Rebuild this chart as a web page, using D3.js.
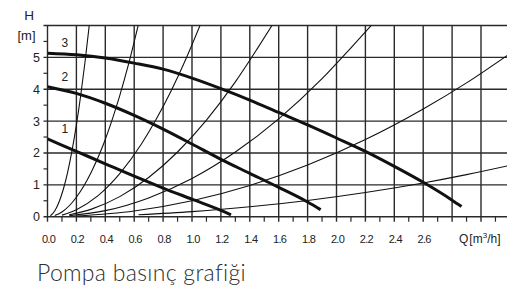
<!DOCTYPE html>
<html>
<head>
<meta charset="utf-8">
<script src="https://cdn.jsdelivr.net/npm/d3@7"></script>
<style>
  html, body { margin: 0; padding: 0; background: #fff; }
  svg text { font-family: "Liberation Sans", Arial, sans-serif; fill: #222; }
</style>
</head>
<body>
<svg id="chart" width="507" height="289"></svg>
<script>
// tick labels
var qTicks = [0.0, 0.2, 0.4, 0.6, 0.8, 1.0, 1.2, 1.4, 1.6, 1.8, 2.0, 2.2, 2.4, 2.6];
var hTicks = [0, 1, 2, 3, 4, 5];

// pump curves 1, 2, 3  [Q m3/h, H m]
var pump1 = [[0, 2.44], [0.2, 2.05], [0.4, 1.66], [0.6, 1.27], [0.8, 0.9], [1.0, 0.55], [1.2, 0.2], [1.27, 0.06]];
var pump2 = [[0, 4.08], [0.2, 3.87], [0.4, 3.56], [0.6, 3.18], [0.8, 2.75], [1.0, 2.28], [1.2, 1.8], [1.4, 1.36], [1.6, 0.92], [1.8, 0.46], [1.89, 0.22]];
var pump3 = [[0, 5.13], [0.2, 5.08], [0.4, 4.98], [0.6, 4.82], [0.8, 4.63], [1.0, 4.35], [1.2, 4.02], [1.4, 3.66], [1.6, 3.27], [1.8, 2.88], [2.0, 2.47], [2.2, 2.05], [2.4, 1.58], [2.6, 1.08], [2.8, 0.52], [2.865, 0.32]];
var pumpNames = ["1", "2", "3"];

// system (pipe) curves, thin lines
var sysA = [[0.02, 0.03], [0.05, 0.18], [0.08, 0.46], [0.11, 0.87], [0.14, 1.41], [0.17, 2.08], [0.2, 2.88], [0.23, 3.81], [0.26, 4.87], [0.29, 6.05]];
var sysB = [[0.05, 0.04], [0.1, 0.15], [0.2, 0.61], [0.3, 1.37], [0.386, 2.26], [0.45, 3.08], [0.5, 3.8], [0.56, 4.77], [0.63, 6.05]];
var sysC = [[0.1, 0.05], [0.2, 0.22], [0.35, 0.66], [0.5, 1.35], [0.65, 2.28], [0.75, 3.04], [0.85, 3.9], [0.95, 4.87], [1.06, 6.05]];
var sysD = [[0.15, 0.06], [0.3, 0.23], [0.5, 0.63], [0.7, 1.23], [0.9, 2.03], [1.1, 3.03], [1.3, 4.23], [1.45, 5.26], [1.56, 6.05]];
var sysE = [[0.15, 0.03], [0.4, 0.19], [0.7, 0.59], [1.0, 1.2], [1.3, 2.03], [1.6, 3.07], [1.9, 4.33], [2.1, 5.3], [2.25, 6.05]];
var sysF = [[0.2, 0.02], [0.6, 0.18], [1.0, 0.5], [1.4, 0.98], [1.8, 1.62], [2.2, 2.42], [2.6, 3.38], [2.9, 4.2], [3.2, 5.12]];
var sysG = [[0.63, 0.06], [1.0, 0.16], [1.4, 0.31], [1.8, 0.51], [2.2, 0.76], [2.6, 1.06], [2.9, 1.32], [3.2, 1.61]];

var svg = d3.select("#chart");

var x = d3.scaleLinear().domain([0, 3.2]).range([47.5, 47.5 + 3.2 * 144.5]);
var y = d3.scaleLinear().domain([0, 6]).range([216.7, 25.5]);

// clip for the plot area
svg.append("defs").append("clipPath").attr("id", "plot")
    .append("rect")
    .attr("x", x(0)).attr("y", y(6))
    .attr("width", 507 - x(0)).attr("height", y(0) - y(6));

var grid = svg.append("g").attr("stroke", "#2a2a2a").attr("stroke-width", 1.4);

// vertical grid lines every 0.2, running a bit below the axis
var vGrid = d3.range(0, 3.01, 0.2);
grid.selectAll(".vg").data(vGrid).enter().append("line")
    .attr("x1", d => x(d)).attr("x2", d => x(d))
    .attr("y1", y(6)).attr("y2", y(0) + 5);

// minor ticks on Q axis
var qMinor = d3.range(0.1, 3.2, 0.2);
grid.selectAll(".vm").data(qMinor).enter().append("line")
    .attr("x1", d => x(d)).attr("x2", d => x(d))
    .attr("y1", y(0)).attr("y2", y(0) + 5)
    .attr("stroke-width", 1.2);

// horizontal grid lines
grid.selectAll(".hg").data(d3.range(0, 7, 1)).enter().append("line")
    .attr("x1", x(0) - 4).attr("x2", 507)
    .attr("y1", d => y(d)).attr("y2", d => y(d));

// minor ticks on H axis
grid.selectAll(".hm").data(d3.range(0.5, 6, 1)).enter().append("line")
    .attr("x1", x(0) - 4).attr("x2", x(0))
    .attr("y1", d => y(d)).attr("y2", d => y(d))
    .attr("stroke-width", 1.2);

var line = d3.line()
    .x(d => x(d[0]))
    .y(d => y(d[1]))
    .curve(d3.curveMonotoneX);

var curves = svg.append("g").attr("clip-path", "url(#plot)").attr("fill", "none");

// thin system curves
curves.selectAll(".sys").data([sysA, sysB, sysC, sysD, sysE, sysF, sysG]).enter().append("path")
    .attr("d", line)
    .attr("stroke", "#111")
    .attr("stroke-width", 1.1);

// thick pump curves
var pumps = [pump1, pump2, pump3];
curves.selectAll(".pump").data(pumps).enter().append("path")
    .attr("d", line)
    .attr("stroke", "#111")
    .attr("stroke-width", 3)
    .attr("stroke-linecap", "butt");

// curve numbers
svg.selectAll(".pname").data(pumps).enter().append("text")
    .attr("x", x(0.12))
    .attr("y", d => y(d[0][1]) - 6)
    .attr("text-anchor", "middle")
    .style("font-size", "12px")
    .text((d, i) => pumpNames[i]);

// H axis labels
svg.selectAll(".hl").data(hTicks).enter().append("text")
    .attr("x", 40)
    .attr("y", d => y(d) + 4.5)
    .attr("text-anchor", "end")
    .style("font-size", "12.5px")
    .text(d => d);

// Q axis labels
svg.selectAll(".ql").data(qTicks).enter().append("text")
    .attr("x", d => x(d) + 1)
    .attr("y", 242.5)
    .attr("text-anchor", "middle")
    .style("font-size", "11px")
    .style("letter-spacing", "-0.7px")
    .text(d3.format(".1f"));

// axis titles
svg.append("text").attr("x", 29).attr("y", 20).attr("text-anchor", "middle")
    .style("font-size", "13.5px").text("H");
svg.append("text").attr("x", 26.5).attr("y", 39.5).attr("text-anchor", "middle")
    .style("font-size", "13px").text("[m]");

var qt = svg.append("text").attr("x", 459).attr("y", 242.5).style("font-size", "12px");
qt.append("tspan").text("Q");
qt.append("tspan").attr("dx", 1).text("[m");
qt.append("tspan").attr("dy", -5).style("font-size", "8px").text("3");
qt.append("tspan").attr("dy", 5).text("/h]");

// caption
svg.append("text")
    .attr("x", 37).attr("y", 280.5)
    .style("font-family", "Lato, 'Open Sans', sans-serif")
    .style("font-weight", 300)
    .style("font-size", "23px")
    .style("letter-spacing", "0.3px")
    .style("fill", "#2e2e2e")
    .text("Pompa basınç grafiği");
</script>
</body>
</html>
